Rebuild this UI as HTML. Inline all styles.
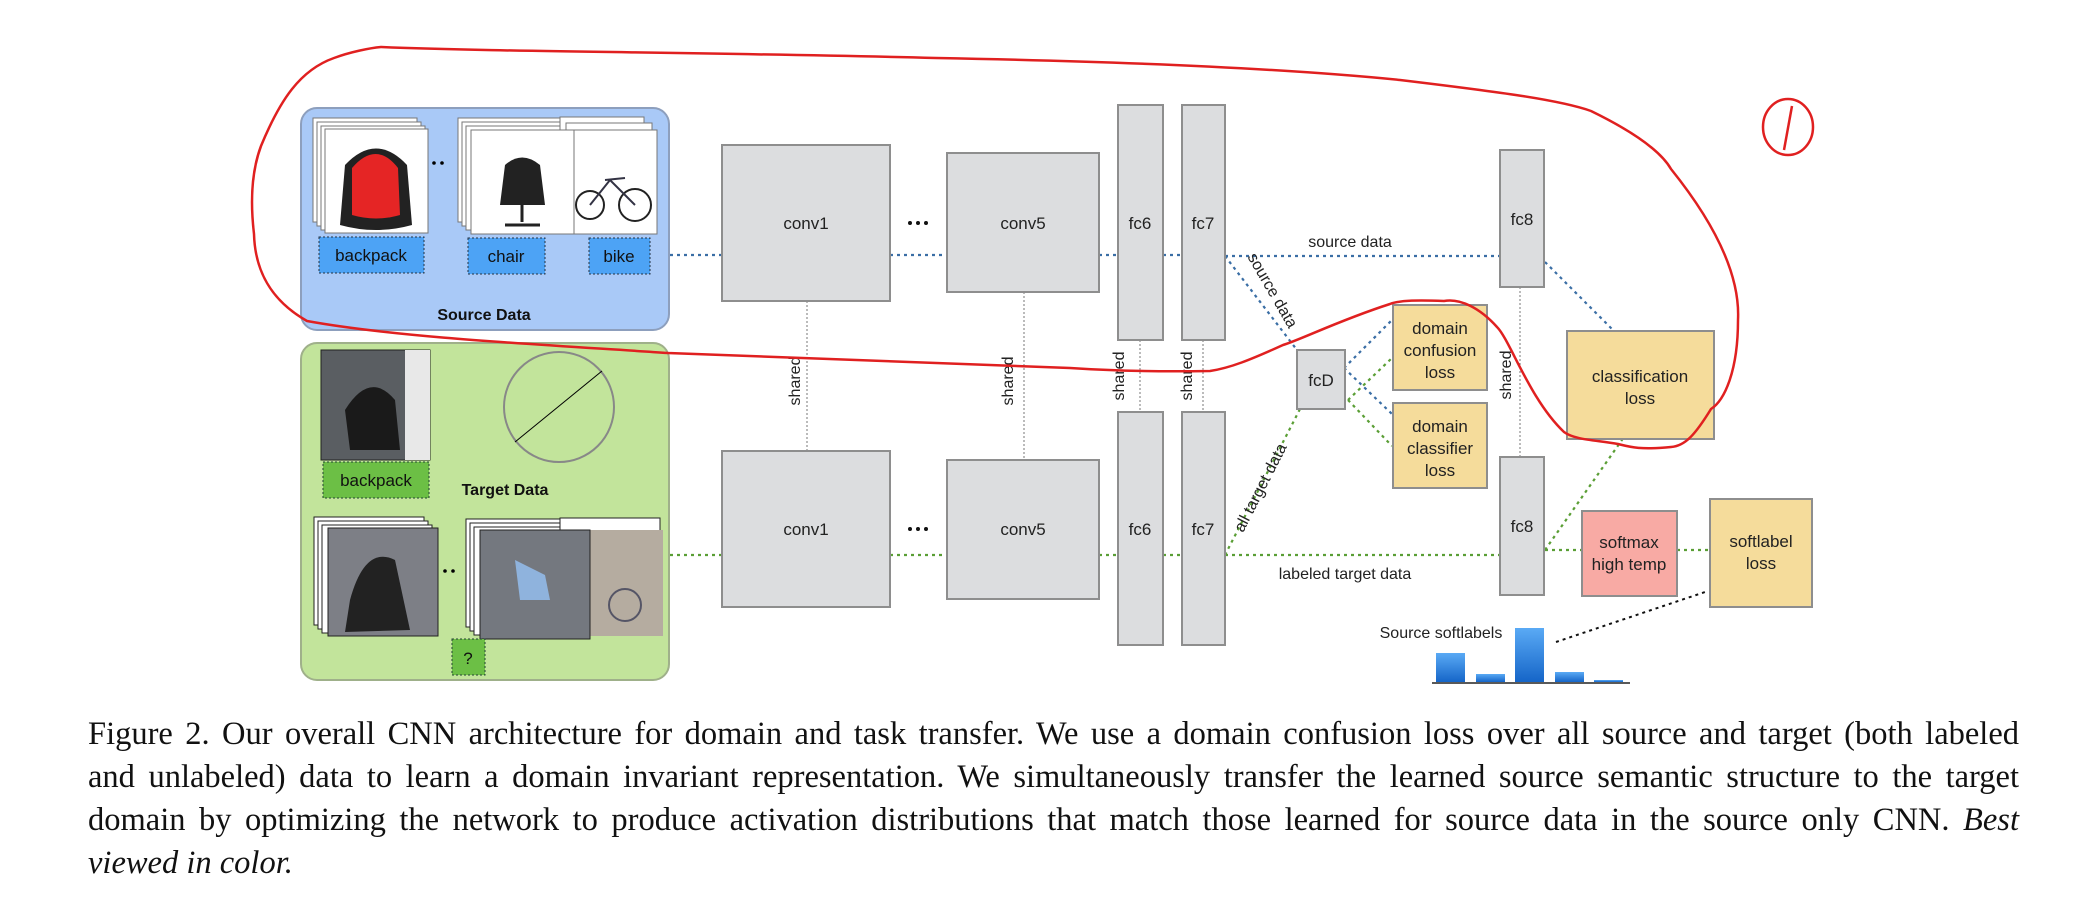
<!DOCTYPE html>
<html><head><meta charset="utf-8"><style>
html,body{margin:0;padding:0;background:#fff;}
#w{position:relative;width:2096px;height:916px;overflow:hidden;}
svg{position:absolute;left:0;top:0;}
.cap{position:absolute;left:88px;width:1931px;font-family:"Liberation Serif",serif;font-size:32.5px;color:#111;line-height:43px;}
.cap div{text-align:justify;text-align-last:justify;white-space:nowrap;}
.cap div.l{text-align-last:left;}
</style></head><body><div id="w">
<svg width="2096" height="916" viewBox="0 0 2096 916" font-family="Liberation Sans, sans-serif">
<rect x="301" y="108" width="368" height="222" rx="16" fill="#a9c9f7" stroke="#8d9fbd" stroke-width="2"/>
<rect x="301" y="343" width="368" height="337" rx="16" fill="#c2e49b" stroke="#9fb08a" stroke-width="2"/>
<g stroke="#777" stroke-width="1" fill="#fff">
<rect x="313" y="118" width="104" height="104"/><rect x="317" y="122" width="104" height="104"/><rect x="321" y="126" width="104" height="104"/>
<rect x="325" y="129" width="103" height="104"/>
<rect x="458" y="118" width="104" height="104"/><rect x="462" y="122" width="104" height="104"/><rect x="466" y="126" width="104" height="104"/>
<rect x="560" y="117" width="84" height="104"/><rect x="566" y="123" width="86" height="104"/>
<rect x="471" y="130" width="103" height="104"/><rect x="574" y="130" width="83" height="104"/>
</g>
<path d="M345 165 Q376 132 407 165 L412 225 Q376 235 340 225 Z" fill="#222"/>
<path d="M352 168 Q376 140 398 168 L400 215 Q376 222 352 215 Z" fill="#e52525"/>
<path d="M505 165 Q522 150 540 165 L545 205 L500 205 Z" fill="#222"/>
<path d="M522 205 L522 222 M505 225 L540 225" stroke="#222" stroke-width="3"/>
<circle cx="590" cy="205" r="14" fill="none" stroke="#222" stroke-width="2"/><circle cx="635" cy="205" r="16" fill="none" stroke="#222" stroke-width="2"/>
<path d="M590 205 L610 180 L635 205 M605 180 L625 178" stroke="#334" stroke-width="2" fill="none"/>
<circle cx="434" cy="163" r="1.8" fill="#000"/><circle cx="442" cy="163" r="1.8" fill="#000"/>
<g fill="#4da3f5" stroke="#234" stroke-width="1" stroke-dasharray="2,2">
<rect x="319" y="237" width="105" height="36"/><rect x="468" y="238" width="77" height="36"/><rect x="589" y="238" width="61" height="36"/>
</g>
<g font-size="17" fill="#111" text-anchor="middle">
<text x="371" y="261">backpack</text><text x="506" y="262">chair</text><text x="619" y="262">bike</text>
</g>
<text x="484" y="320" font-size="16" font-weight="bold" text-anchor="middle" fill="#111">Source Data</text>
<rect x="321" y="350" width="109" height="110" fill="#5a5e62" stroke="#222"/>
<rect x="405" y="350" width="25" height="110" fill="#e8e8e8"/>
<path d="M345 410 Q370 370 395 400 L400 450 L350 450 Z" fill="#1a1a1a"/>
<rect x="323" y="462" width="106" height="36" fill="#6cbf45" stroke="#243" stroke-dasharray="2,2"/>
<text x="376" y="486" font-size="17" text-anchor="middle" fill="#111">backpack</text>
<ellipse cx="559" cy="407" rx="55" ry="55" fill="none" stroke="#888" stroke-width="2"/>
<line x1="515" y1="442" x2="602" y2="371" stroke="#000" stroke-width="1"/>
<text x="505" y="495" font-size="16" font-weight="bold" text-anchor="middle" fill="#111">Target Data</text>
<g stroke="#222" stroke-width="1" fill="#fff">
<rect x="314" y="517" width="110" height="108"/><rect x="318" y="521" width="110" height="108"/><rect x="322" y="525" width="110" height="108"/>
<rect x="466" y="519" width="110" height="108"/><rect x="470" y="523" width="110" height="108"/><rect x="474" y="527" width="110" height="108"/>
<rect x="560" y="518" width="100" height="110"/>
</g>
<rect x="328" y="528" width="110" height="108" fill="#7d7f86" stroke="#222"/>
<path d="M350 600 Q365 545 395 560 L410 630 L345 632 Z" fill="#222"/>
<rect x="590" y="530" width="73" height="106" fill="#b5aca0"/>
<circle cx="625" cy="605" r="16" fill="none" stroke="#556" stroke-width="2"/>
<rect x="480" y="530" width="110" height="109" fill="#74787f" stroke="#222"/>
<path d="M515 560 L545 575 L550 600 L520 600 Z" fill="#8fb3dd"/>
<circle cx="445" cy="571" r="1.8" fill="#000"/><circle cx="453" cy="571" r="1.8" fill="#000"/>
<rect x="452" y="639" width="33" height="36" fill="#6cbf45" stroke="#243" stroke-dasharray="2,2"/>
<text x="468" y="664" font-size="17" text-anchor="middle" fill="#111">?</text>
<g stroke="#3a6ea5" stroke-width="2.2" stroke-dasharray="3,4" fill="none">
<path d="M670 255 H722 M890 255 H947 M1099 255 H1118 M1163 255 H1182 M1225 256 H1500"/>
<path d="M1225 256 L1297 350"/>
<path d="M1344 368 L1392 320 M1344 368 L1392 414"/>
<path d="M1545 262 L1612 329"/>
</g>
<g stroke="#5a9e35" stroke-width="2.2" stroke-dasharray="3,4" fill="none">
<path d="M670 555 H722 M890 555 H947 M1099 555 H1118 M1163 555 H1182 M1225 555 H1500"/>
<path d="M1225 555 L1300 409"/>
<path d="M1348 400 L1392 358 M1348 400 L1392 446"/>
<path d="M1545 550 L1624 437 M1545 550 H1582 M1677 550 H1710"/>
</g>
<path d="M1556 642 L1708 591" stroke="#111" stroke-width="2" stroke-dasharray="3,4" fill="none"/>
<g stroke="#777" stroke-width="1" stroke-dasharray="2,2">
<path d="M807 301 V451 M1024 292 V460 M1140 340 V412 M1203 340 V412 M1520 287 V457"/>
</g>
<g fill="#dcdddf" stroke="#8e8e8e" stroke-width="2">
<rect x="722" y="145" width="168" height="156"/><rect x="947" y="153" width="152" height="139"/>
<rect x="1118" y="105" width="45" height="235"/><rect x="1182" y="105" width="43" height="235"/>
<rect x="722" y="451" width="168" height="156"/><rect x="947" y="460" width="152" height="139"/>
<rect x="1118" y="412" width="45" height="233"/><rect x="1182" y="412" width="43" height="233"/>
<rect x="1500" y="150" width="44" height="137"/><rect x="1500" y="457" width="44" height="138"/>
<rect x="1297" y="350" width="48" height="59"/>
</g>
<g fill="#f5dc9b" stroke="#8e8e8e" stroke-width="2">
<rect x="1393" y="305" width="94" height="85"/><rect x="1393" y="403" width="94" height="85"/>
<rect x="1567" y="331" width="147" height="108"/><rect x="1710" y="499" width="102" height="108"/>
</g>
<rect x="1582" y="511" width="95" height="85" fill="#f8aaa4" stroke="#8e8e8e" stroke-width="2"/>
<g font-size="17" fill="#222" text-anchor="middle">
<text x="806" y="229">conv1</text><text x="1023" y="229">conv5</text><text x="1140" y="229">fc6</text><text x="1203" y="229">fc7</text>
<text x="806" y="535">conv1</text><text x="1023" y="535">conv5</text><text x="1140" y="535">fc6</text><text x="1203" y="535">fc7</text>
<text x="1522" y="225">fc8</text><text x="1522" y="532">fc8</text><text x="1321" y="386">fcD</text>
<text x="1440" y="334">domain</text><text x="1440" y="356">confusion</text><text x="1440" y="378">loss</text>
<text x="1440" y="432">domain</text><text x="1440" y="454">classifier</text><text x="1440" y="476">loss</text>
<text x="1640" y="382">classification</text><text x="1640" y="404">loss</text>
<text x="1629" y="548">softmax</text><text x="1629" y="570">high temp</text>
<text x="1761" y="547">softlabel</text><text x="1761" y="569">loss</text>
<text x="1350" y="247" font-size="16">source data</text>
<text x="1345" y="579" font-size="16">labeled target data</text>
<text x="1441" y="638" font-size="16">Source softlabels</text>
<g font-size="16">
<text transform="translate(800 381) rotate(-90)">shared</text>
<text transform="translate(1013 381) rotate(-90)">shared</text>
<text transform="translate(1124 376) rotate(-90)">shared</text>
<text transform="translate(1192 376) rotate(-90)">shared</text>
<text transform="translate(1511 375) rotate(-90)">shared</text>
<text transform="translate(1268 293) rotate(60)">source data</text>
<text transform="translate(1265 490) rotate(-63)">all target data</text>
</g>
</g>
<circle cx="910" cy="223" r="2" fill="#111"/><circle cx="918" cy="223" r="2" fill="#111"/><circle cx="926" cy="223" r="2" fill="#111"/>
<circle cx="910" cy="529" r="2" fill="#111"/><circle cx="918" cy="529" r="2" fill="#111"/><circle cx="926" cy="529" r="2" fill="#111"/>
<defs><linearGradient id="g" x1="0" y1="0" x2="0" y2="1"><stop offset="0" stop-color="#5aaaf5"/><stop offset="1" stop-color="#1565c8"/></linearGradient></defs>
<g fill="url(#g)">
<rect x="1436" y="653" width="29" height="29"/><rect x="1476" y="674" width="29" height="8"/><rect x="1515" y="628" width="29" height="54"/><rect x="1555" y="672" width="29" height="10"/><rect x="1594" y="680" width="29" height="2"/>
</g>
<line x1="1432" y1="683" x2="1630" y2="683" stroke="#222" stroke-width="1.5"/>
<path d="M381 47 C500 52 700 52 936 58 C1150 62 1300 70 1400 80 C1500 92 1560 100 1591 111 C1630 130 1660 150 1671 169 C1720 230 1740 280 1738 320 C1738 370 1725 400 1711 409 C1695 435 1685 446 1671 447 C1640 450 1630 447 1618 444 C1595 440 1575 440 1564 432 C1530 400 1510 340 1497 327 C1480 308 1460 298 1444 301 C1420 300 1400 300 1390 304 C1340 320 1300 340 1283 345 C1250 360 1230 368 1210 371 C1150 372 1100 370 1070 368 C900 362 750 357 668 353 C550 345 400 338 307 321 C270 300 255 270 254 234 C250 200 252 170 261 146 C280 100 300 70 334 58 C350 52 370 48 381 47 Z" fill="none" stroke="#e02020" stroke-width="2.5"/>
<ellipse cx="1788" cy="127" rx="25" ry="28" fill="none" stroke="#e02020" stroke-width="2.5"/>
<path d="M1792 106 L1784 150" stroke="#e02020" stroke-width="2.5"/>
</svg>
<div class="cap" style="top:713px">
<div>Figure 2. Our overall CNN architecture for domain and task transfer. We use a domain confusion loss over all source and target (both labeled</div>
<div>and unlabeled) data to learn a domain invariant representation. We simultaneously transfer the learned source semantic structure to the target</div>
<div>domain by optimizing the network to produce activation distributions that match those learned for source data in the source only CNN. <i>Best</i></div>
<div class="l"><i>viewed in color.</i></div>
</div>
</div></body></html>
